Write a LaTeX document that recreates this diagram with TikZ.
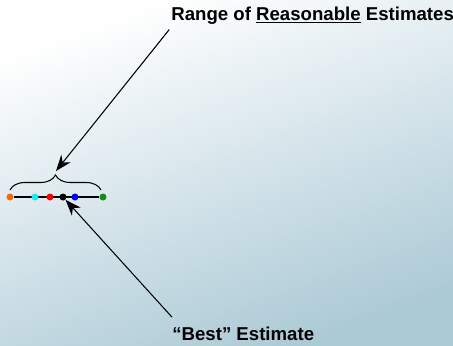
\documentclass[tikz,border=0pt]{standalone}
\usepackage{fontspec}
\setmainfont{Liberation Sans}
\usepackage{tikz}
\usetikzlibrary{arrows.meta,positioning,decorations.pathreplacing}
\definecolor{fondclair}{HTML}{FFFFFF}
\definecolor{fondmilieu}{HTML}{F7FAFB}
\definecolor{fondbleu}{HTML}{ACCAD6}
\definecolor{estorange}{HTML}{F26B0F}
\definecolor{estcyan}{HTML}{22E6F0}
\definecolor{estgreen}{HTML}{138A1A}

\begin{document}
\begin{tikzpicture}[
    x=0.02cm, y=-0.02cm,
    dot/.style={circle, inner sep=0pt, minimum size=0.14cm},
    flow/.style={-{Stealth[length=3.2mm,width=2.4mm]}, line width=0.6pt, black},
    lbl/.style={font=\fontsize{10.6}{12}\selectfont\bfseries, inner sep=0pt}
  ]
    % Fond
    \shade[top color=fondclair, middle color=fondmilieu,
           bottom color=fondbleu, shading angle=20]
          (0,0) rectangle (453,345);
    \useasboundingbox (0,0) rectangle (453,345);
    % Axe des estimations
    \node[dot, fill=estorange] (e1) at (10,197) {};
    \node[dot, fill=estgreen] (e6) at (103,197) {};
    \draw[line width=0.6pt] (e1) -- (e6);
    \node[dot, fill=estcyan] (e2) at (35,197) {};
    \node[dot, fill=red] (e3) at (50,197) {};
    \node[dot, fill=black] (e4) at (63,197) {};
    \node[dot, fill=blue] (e5) at (75,197) {};
    % Accolade
    \draw[line width=0.6pt, decorate, decoration={brace, amplitude=0.3cm}]
          (10,190) -- (101,190);
    \coordinate (tip) at (56,171);
    % Etiquettes
    \node[lbl, anchor=base west] (range) at (171,20)
          {Range of \underline{Reasonable} Estimates};
    \node[lbl, anchor=base west] (best) at (172,340) {“Best” Estimate};
    \coordinate (rstart) at ([xshift=-1pt,yshift=-3pt]range.south west);
    \coordinate (bstart) at ([yshift=0.18cm]best.north west);
    % Flèches
    \draw[flow] (rstart) -- (tip);
    \draw[flow] (bstart) -- (e4);
  \end{tikzpicture}
\end{document}
